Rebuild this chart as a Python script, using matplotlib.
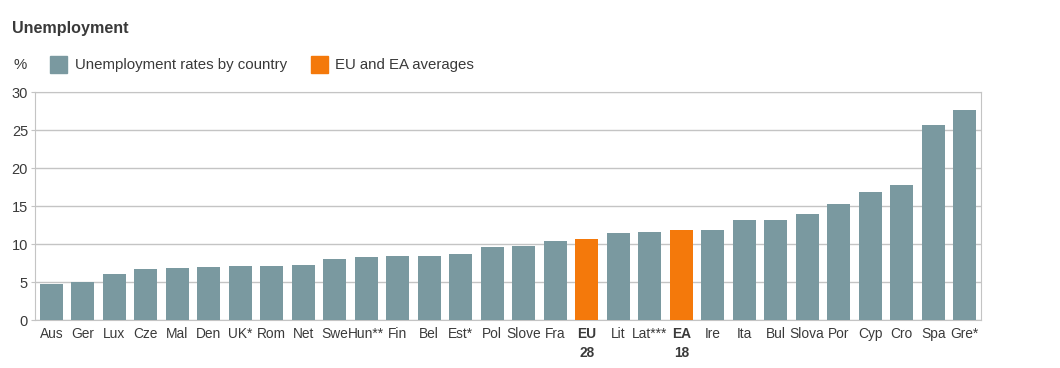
import matplotlib.pyplot as plt
from matplotlib.patches import Rectangle

plt.rcParams['font.family'] = ['Liberation Sans', 'DejaVu Sans']

countries = ["Aus", "Ger", "Lux", "Cze", "Mal", "Den", "UK*", "Rom", "Net", "Swe",
             "Hun**", "Fin", "Bel", "Est*", "Pol", "Slove", "Fra", "EU\n28", "Lit", "Lat***",
             "EA\n18", "Ire", "Ita", "Bul", "Slova", "Por", "Cyp", "Cro", "Spa", "Gre*"]
rates = [4.7, 5.0, 6.1, 6.7, 6.9, 7.0, 7.1, 7.1, 7.3, 8.0,
         8.3, 8.4, 8.4, 8.7, 9.6, 9.8, 10.4, 10.6, 11.5, 11.6,
         11.9, 11.9, 13.1, 13.1, 13.9, 15.3, 16.8, 17.7, 25.6, 27.6]
averages = ["EU\n28", "EA\n18"]

teal = "#7a99a0"
orange = "#f4790b"
grid_c = "#c4c4c4"
text_c = "#3a3a3a"

W, H = 1060, 368
fig = plt.figure(figsize=(W / 100, H / 100), dpi=100)
ax = fig.add_axes([35 / W, 1 - 320 / H, (981 - 35) / W, (320 - 92) / H])

colors = [orange if c in averages else teal for c in countries]
x = range(len(countries))
ax.bar(x, rates, width=0.73, color=colors, zorder=3)

ax.set_xlim(-0.52, len(countries) - 0.48)
ax.set_ylim(0, 30)
ax.set_yticks([0, 5, 10, 15, 20, 25, 30])
ax.yaxis.grid(True, color=grid_c, linewidth=1, zorder=0)
for s in ax.spines.values():
    s.set_color(grid_c)
ax.tick_params(axis='y', length=3, color=grid_c, labelsize=10.5, labelcolor=text_c, pad=2)
ax.tick_params(axis='x', length=0, labelsize=9.9, labelcolor=text_c, pad=5)
ax.set_xticks(list(x))
ax.set_xticklabels(countries, linespacing=1.45, va='top')
for lbl in ax.get_xticklabels():
    if lbl.get_text() in averages:
        lbl.set_fontweight('bold')

# title and legend
fig.text(12 / W, 1 - 28 / H, "Unemployment", fontsize=11.6, fontweight='bold',
         color=text_c, va='center', ha='left')
fig.text(13 / W, 1 - 65 / H, "%", fontsize=10.8, color=text_c, va='center', ha='left')
fig.patches.append(Rectangle((50 / W, 1 - 73 / H), 17 / W, 17 / H,
                             transform=fig.transFigure, color=teal))
fig.text(75 / W, 1 - 65 / H, "Unemployment rates by country", fontsize=10.8,
         color=text_c, va='center', ha='left')
fig.patches.append(Rectangle((311 / W, 1 - 73 / H), 17 / W, 17 / H,
                             transform=fig.transFigure, color=orange))
fig.text(335 / W, 1 - 65 / H, "EU and EA averages", fontsize=10.8,
         color=text_c, va='center', ha='left')

fig.savefig("out.png", dpi=100)
